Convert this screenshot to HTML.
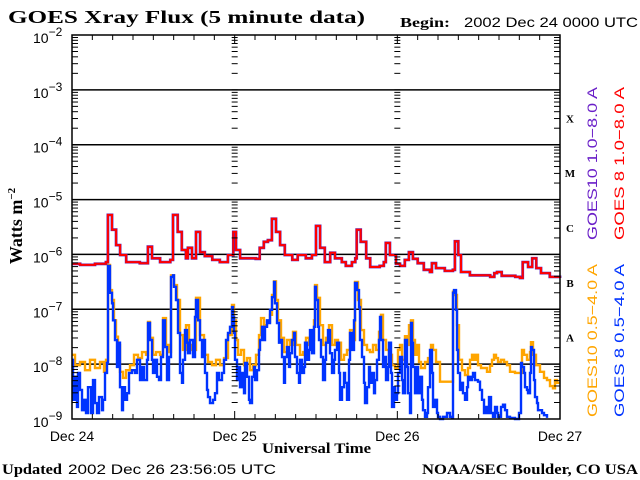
<!DOCTYPE html>
<html><head><meta charset="utf-8"><style>
html,body{margin:0;padding:0;background:#fff;}
svg{display:block;}
</style></head><body>
<svg id="chart" width="640" height="480" xmlns="http://www.w3.org/2000/svg">
<rect x="0" y="0" width="640" height="480" fill="#fff"/>
<text x="8" y="23" font-family="Liberation Serif, serif" font-weight="bold" font-size="18" textLength="357" lengthAdjust="spacingAndGlyphs">GOES Xray Flux (5 minute data)</text>
<text x="400" y="27" font-family="Liberation Serif, serif" font-weight="bold" font-size="14" textLength="50" lengthAdjust="spacingAndGlyphs">Begin:</text>
<text x="464" y="27" font-family="Liberation Sans, sans-serif" font-size="14" textLength="174" lengthAdjust="spacingAndGlyphs">2002 Dec 24 0000 UTC</text>
<text transform="translate(22,226) rotate(-90)" text-anchor="middle" font-family="Liberation Serif, serif" font-weight="bold" font-size="18">Watts m<tspan font-size="11" dy="-7">−2</tspan></text>
<text x="262" y="453" font-family="Liberation Serif, serif" font-weight="bold" font-size="15" textLength="109" lengthAdjust="spacingAndGlyphs">Universal Time</text>
<text x="2" y="474" font-family="Liberation Serif, serif" font-weight="bold" font-size="15" textLength="60" lengthAdjust="spacingAndGlyphs">Updated</text>
<text x="68" y="474" font-family="Liberation Sans, sans-serif" font-size="14" textLength="208" lengthAdjust="spacingAndGlyphs">2002 Dec 26 23:56:05 UTC</text>
<text x="422" y="474" font-family="Liberation Serif, serif" font-weight="bold" font-size="15" textLength="216" lengthAdjust="spacingAndGlyphs">NOAA/SEC Boulder, CO USA</text>
<g id="grid"></g>
<g id="series"></g>
<g id="axes"></g>
</svg>
<script>
const yDecades = [-2,-3,-4,-5,-6,-7,-8,-9];
const xTickLabels = ["Dec 24","Dec 25","Dec 26","Dec 27"];
const classLabels = ["X","M","C","B","A"];
const classLogs = [-3.5,-4.5,-5.5,-6.5,-7.5];

const redTimes = [0,1.2,3.4,5.0,5.3,5.9,6.5,7.1,8.0,10.0,11.2,11.8,13.0,14.5,14.9,15.6,16.2,16.8,17.1,17.7,18.3,18.9,19.6,20.7,21.8,23.0,23.8,24.2,24.8,27.1,27.7,28.3,28.9,29.5,30.1,30.7,31.4,32.5,33.3,34.5,35.4,36.0,36.6,37.3,38.1,38.8,39.8,40.4,41.3,41.8,42.0,42.6,43.4,44.0,45.4,46.0,46.3,46.9,47.8,48.4,49.1,49.7,50.3,51.0,51.9,52.8,53.1,53.7,55.0,56.2,56.5,57.0,57.4,58.7,60.2,61.7,62.3,62.7,63.4,65.4,66.1,66.5,67.3,67.9,68.5,69.2,70.5,72.0];
const redLog = [-6.17,-6.19,-6.17,-6.14,-5.28,-5.55,-5.83,-6.01,-6.14,-6.16,-5.86,-6.07,-6.14,-6.10,-5.28,-5.59,-5.92,-6.07,-5.88,-6.07,-5.59,-5.96,-6.03,-6.10,-6.14,-6.01,-5.59,-5.92,-6.07,-6.08,-5.88,-5.77,-5.74,-5.35,-5.59,-5.83,-6.01,-6.10,-6.01,-6.07,-6.01,-5.48,-5.88,-6.14,-5.97,-6.07,-6.14,-6.21,-6.14,-6.07,-5.55,-5.77,-6.07,-6.23,-6.21,-6.14,-5.79,-6.01,-6.17,-6.21,-6.10,-5.96,-6.08,-6.16,-6.28,-6.32,-6.16,-6.25,-6.30,-6.28,-5.76,-6.01,-6.32,-6.38,-6.38,-6.41,-6.34,-6.32,-6.39,-6.41,-6.43,-6.14,-6.23,-6.07,-6.25,-6.34,-6.41,-6.43];

const orangeTimes = [0,0.44,1.18,1.92,2.66,3.39,4.13,4.72,5.02,5.31,5.61,5.90,6.20,6.49,6.79,7.08,7.52,7.97,8.56,9.15,9.74,10.33,10.92,11.21,11.51,11.95,12.39,12.98,13.43,13.87,14.31,14.61,15.05,15.49,15.93,16.38,16.82,17.26,17.70,18.30,18.89,19.48,20.07,20.66,21.25,21.84,22.43,23.02,23.61,23.90,24.20,24.49,24.93,25.38,25.82,26.26,26.70,27.15,27.59,27.89,28.33,28.77,29.21,29.51,29.80,30.10,30.39,30.84,31.28,31.72,32.16,32.61,33.05,33.64,34.08,34.52,34.97,35.41,35.70,35.85,36.15,36.59,37.03,37.48,37.92,38.36,38.80,39.25,39.69,40.13,40.57,41.02,41.46,41.75,42.20,42.64,43.08,43.52,43.97,44.41,44.85,45.30,45.59,45.89,46.33,46.77,47.21,47.66,48.10,48.39,48.69,49.13,49.43,49.72,50.02,50.31,50.61,50.90,51.20,51.49,51.79,52.08,52.52,52.97,53.26,53.70,54.30,54.89,55.48,55.92,56.21,56.51,56.80,57.10,57.54,57.98,58.43,58.72,59.02,59.31,59.61,59.90,60.34,60.79,61.23,61.67,61.97,62.26,62.56,62.85,63.30,63.74,64.18,64.62,65.36,66.10,66.39,66.69,67.13,67.57,67.72,68.02,68.46,69.05,69.64,70.08,70.52,70.97,71.26,71.56,71.85];
const orangeLog = [-7.83,-8.02,-7.96,-8.11,-7.92,-8.07,-7.96,-8.14,-7.92,-6.19,-6.65,-6.83,-7.20,-7.50,-7.65,-8.14,-8.25,-8.11,-8.02,-7.83,-7.89,-7.78,-7.83,-7.23,-7.52,-7.83,-7.78,-7.83,-7.16,-7.65,-7.78,-6.38,-6.56,-6.83,-7.47,-7.74,-7.29,-7.65,-7.74,-6.79,-7.47,-7.83,-7.96,-8.02,-7.92,-8.02,-7.89,-7.47,-6.92,-7.20,-7.56,-7.83,-7.74,-8.02,-7.89,-8.11,-8.02,-7.83,-7.47,-7.16,-7.29,-7.23,-7.10,-6.74,-6.49,-6.83,-7.20,-7.52,-7.78,-7.56,-7.65,-7.41,-7.65,-7.83,-7.78,-7.52,-7.65,-7.56,-7.20,-6.56,-6.79,-7.29,-7.65,-7.52,-7.29,-7.65,-7.56,-7.61,-7.92,-7.83,-7.74,-7.38,-7.56,-6.50,-6.83,-7.38,-7.65,-7.74,-7.78,-7.65,-7.74,-7.41,-7.10,-7.56,-7.74,-7.83,-8.02,-8.07,-7.74,-7.65,-7.92,-7.49,-7.65,-7.29,-7.20,-7.56,-7.83,-7.65,-7.96,-8.07,-8.07,-7.96,-7.89,-7.65,-7.74,-7.96,-8.32,-8.32,-8.32,-8.32,-6.68,-6.74,-7.29,-7.92,-8.11,-8.20,-8.07,-7.92,-7.83,-7.92,-7.83,-8.02,-8.07,-8.07,-8.14,-8.03,-7.92,-7.83,-7.89,-7.96,-7.92,-7.96,-8.02,-8.14,-8.16,-8.16,-7.74,-7.83,-7.92,-7.78,-7.60,-7.83,-8.02,-8.14,-8.25,-8.29,-8.40,-8.44,-8.29,-8.34,-8.32];

const blueTimes = [0,0.15,0.44,0.74,0.89,1.18,1.48,1.77,2.07,2.36,2.80,3.10,3.39,3.69,3.98,4.43,4.57,4.87,5.16,5.31,5.61,5.90,6.05,6.34,6.64,6.79,7.08,7.38,7.52,7.82,8.11,8.41,8.85,9.30,9.59,10.03,10.33,10.62,11.07,11.21,11.51,11.80,11.95,12.25,12.54,12.84,13.13,13.43,13.72,14.02,14.31,14.61,14.90,15.05,15.34,15.64,15.93,16.23,16.38,16.67,16.97,17.11,17.41,17.85,18.15,18.30,18.59,18.89,19.18,19.33,19.62,19.92,20.07,20.36,20.80,21.10,21.39,21.69,22.13,22.43,22.72,23.02,23.31,23.61,23.75,23.90,24.05,24.34,24.64,24.79,25.08,25.38,25.52,25.82,26.11,26.26,26.56,26.85,27.00,27.30,27.59,27.74,28.03,28.33,28.48,28.77,29.07,29.21,29.51,29.80,29.95,30.25,30.54,30.69,30.98,31.28,31.43,31.72,32.02,32.16,32.46,32.75,32.90,33.20,33.49,33.64,33.93,34.23,34.38,34.67,34.97,35.11,35.41,35.70,35.85,36.00,36.30,36.44,36.74,37.03,37.33,37.48,37.77,38.07,38.36,38.66,38.80,39.10,39.39,39.54,39.84,40.13,40.28,40.57,40.87,41.02,41.31,41.61,41.75,42.05,42.34,42.49,42.79,43.08,43.23,43.52,43.82,43.97,44.26,44.56,44.70,45.00,45.30,45.44,45.59,45.89,46.18,46.33,46.62,46.77,47.07,47.21,47.51,47.66,47.95,48.10,48.39,48.69,48.84,49.13,49.43,49.57,49.87,50.02,50.16,50.31,50.61,50.90,51.05,51.34,51.64,51.79,52.08,52.38,52.52,52.82,53.11,53.26,53.56,53.85,54.00,54.30,54.74,55.33,55.77,56.07,56.21,56.36,56.66,56.80,56.95,57.25,57.54,57.69,57.98,58.28,58.43,58.72,59.02,59.16,59.46,59.90,60.20,60.49,60.79,61.08,61.38,61.52,61.82,62.11,62.41,62.70,62.85,63.30,63.59,63.89,64.18,64.62,65.36,65.95,66.25,66.39,66.69,66.84,67.13,67.28,67.57,67.72,67.87,68.16,68.31,68.61,68.75,69.34,69.64,70.08];
const blueLog = [-7.92,-8.65,-8.23,-8.78,-8.16,-8.47,-8.84,-8.65,-8.89,-8.42,-8.89,-8.29,-8.71,-8.89,-8.60,-8.84,-8.65,-8.16,-7.98,-6.21,-6.70,-6.89,-7.20,-7.56,-8.05,-7.61,-8.42,-8.84,-8.42,-8.65,-8.53,-8.16,-8.11,-8.16,-7.92,-8.29,-8.05,-8.29,-7.92,-7.25,-7.56,-7.92,-8.16,-7.92,-8.23,-8.29,-7.87,-7.20,-7.69,-8.29,-7.87,-6.41,-6.38,-6.59,-6.83,-7.43,-8.16,-8.34,-7.92,-7.38,-7.61,-7.80,-7.56,-7.87,-7.14,-6.83,-7.20,-7.56,-7.87,-7.56,-8.16,-8.47,-8.60,-8.71,-8.65,-8.53,-8.16,-8.29,-8.16,-7.92,-7.56,-7.43,-7.32,-6.96,-7.14,-7.43,-7.92,-8.29,-8.05,-8.42,-8.16,-8.53,-7.98,-8.23,-8.65,-8.71,-8.23,-8.05,-8.29,-8.11,-7.74,-7.56,-7.32,-7.56,-7.32,-7.20,-7.25,-7.01,-6.78,-6.50,-6.89,-7.25,-7.61,-7.56,-7.87,-8.34,-7.87,-7.69,-8.05,-7.80,-7.56,-7.43,-7.87,-8.16,-8.34,-7.92,-8.16,-8.05,-7.61,-7.92,-7.74,-7.38,-7.80,-7.32,-6.59,-6.83,-7.32,-7.56,-7.87,-8.29,-7.92,-7.61,-7.38,-7.80,-8.16,-7.92,-7.74,-7.61,-8.16,-8.65,-8.42,-8.16,-8.34,-8.65,-7.92,-7.43,-7.74,-7.20,-6.52,-6.65,-6.96,-7.56,-7.87,-8.34,-8.71,-8.42,-8.05,-8.34,-8.16,-8.53,-8.29,-7.92,-7.56,-7.14,-7.56,-8.05,-7.87,-8.29,-8.05,-7.61,-8.16,-8.78,-8.42,-8.65,-8.53,-8.16,-7.87,-8.29,-8.53,-7.56,-8.05,-8.53,-8.89,-7.25,-7.61,-8.05,-8.53,-8.05,-8.53,-8.23,-8.65,-8.84,-8.96,-8.89,-8.42,-7.74,-8.16,-8.78,-8.65,-8.89,-8.96,-9.00,-8.96,-8.89,-8.96,-8.98,-6.70,-6.65,-7.01,-7.74,-8.16,-8.47,-8.34,-8.53,-8.65,-8.42,-8.23,-8.29,-8.23,-8.16,-8.29,-8.32,-8.47,-8.65,-8.89,-8.78,-8.89,-8.60,-8.89,-8.96,-8.78,-8.89,-8.96,-8.78,-8.74,-8.84,-8.96,-8.98,-9.00,-8.89,-7.98,-8.05,-8.16,-8.42,-8.47,-8.53,-8.16,-7.69,-7.74,-8.29,-8.60,-8.71,-8.84,-8.89,-8.93,-8.98];

const NS = "http://www.w3.org/2000/svg";
const L = 72, R = 560, T = 35, B = 419;
const xScale = h => L + (h / 72) * (R - L);
const yScale = lg => T + (-2 - lg) / 7 * (B - T);
const gridG = document.getElementById('grid');
const axesG = document.getElementById('axes');
const seriesG = document.getElementById('series');
function mk(tag, attrs, parent) {
  const e = document.createElementNS(NS, tag);
  for (const k in attrs) e.setAttribute(k, attrs[k]);
  parent.appendChild(e);
  return e;
}

yDecades.forEach(d => {
  const y = yScale(d);
  if (d !== -2 && d !== -9) {
    const ln = mk('line', {x1: L, x2: R, y1: y, y2: y, stroke: '#000', 'stroke-width': 1.5}, gridG);
    
    
  }
  const t = mk('text', {x: 33, y: y + 8, 'font-family': 'Liberation Sans, sans-serif', 'font-size': 14}, axesG);
  
  
  t.textContent = '10';
  const s = mk('tspan', {dy: -7, 'font-size': 12}, t);
  s.textContent = '−' + (-d);
});

const colX = [L, xScale(24), xScale(48), R];
yDecades.slice(0, -1).forEach(d => {
  for (let m = 1; m <= 9; m++) {
    const y = yScale(d - 1 + Math.log10(m));
    for (let i = 0; i < colX.length; i++) {
      const cx = colX[i];
      let x1, x2;
      if (i === 0) { x1 = cx; x2 = cx + 6; }
      else if (i === 3) { x1 = cx - 6; x2 = cx; }
      else { x1 = cx - 3; x2 = cx + 3; }
      if (m === 1 && (i === 0 || i === 3)) continue;
      const tk = mk('line', {x1: x1, x2: x2, y1: y, y2: y, stroke: '#000', 'stroke-width': 1}, axesG);
      
      
    }
  }
});

for (let h = 0; h <= 72; h += 3) {
  const x = xScale(h);
  const len = (h % 24 === 0) ? 8 : 5;
  const a = mk('line', {x1: x, x2: x, y1: B, y2: B - len, stroke: '#000'}, axesG);
  
  
  const b = mk('line', {x1: x, x2: x, y1: T, y2: T + len, stroke: '#000'}, axesG);
  
  
}
xTickLabels.forEach((lab, i) => {
  const t = mk('text', {x: xScale(i * 24), y: 441, 'text-anchor': 'middle', 'font-family': 'Liberation Sans, sans-serif', 'font-size': 14}, axesG);
  
  
  t.textContent = lab;
});

const fr = mk('rect', {x: L, y: T, width: R - L, height: B - T, fill: 'none', stroke: '#000', 'stroke-width': 1.5}, axesG);



classLabels.forEach((c, i) => {
  const t = mk('text', {x: 570, y: yScale(classLogs[i]) + 5, 'text-anchor': 'middle', 'font-family': 'Liberation Serif, serif', 'font-weight': 'bold', 'font-size': 11}, axesG);
  
  
  t.textContent = c;
});

function drawLine(times, vals, color, name, w) {
  let d = '';
  times.forEach((h, i) => {
    const x = xScale(h).toFixed(1), y = yScale(vals[i]).toFixed(1);
    if (i === 0) d += 'M' + x + ',' + y;
    else d += 'H' + x + 'V' + y;
  });
  const p = mk('path', {d: d, fill: 'none', stroke: color, 'stroke-width': w}, seriesG);
  
  
}
drawLine(orangeTimes, orangeLog, '#ffa500', 'goes10-short-line', 2.4);
drawLine(blueTimes, blueLog, '#0033ff', 'goes8-short-line', 2.4);
drawLine(redTimes, redLog, '#5020c0', 'goes10-long-line', 2.8);
drawLine(redTimes, redLog, '#ff0000', 'goes8-long-line', 2);

const legends = [
  {text: 'GOES10 1.0−8.0 A', x: 597, y: 240, color: '#6a1fc8', name: 'legend-goes10-long'},
  {text: 'GOES 8 1.0−8.0 A', x: 624, y: 240, color: '#ff0000', name: 'legend-goes8-long'},
  {text: 'GOES10 0.5−4.0 A', x: 597, y: 417, color: '#ffa500', name: 'legend-goes10-short'},
  {text: 'GOES 8 0.5−4.0 A', x: 624, y: 417, color: '#0033ff', name: 'legend-goes8-short'}
];
legends.forEach(l => {
  const t = mk('text', {transform: 'translate(' + l.x + ',' + l.y + ') rotate(-90)', fill: l.color, 'font-family': 'Liberation Sans, sans-serif', 'font-size': 14, textLength: 153, lengthAdjust: 'spacingAndGlyphs'}, axesG);
  
  
  t.textContent = l.text;
});
</script>
</body></html>
